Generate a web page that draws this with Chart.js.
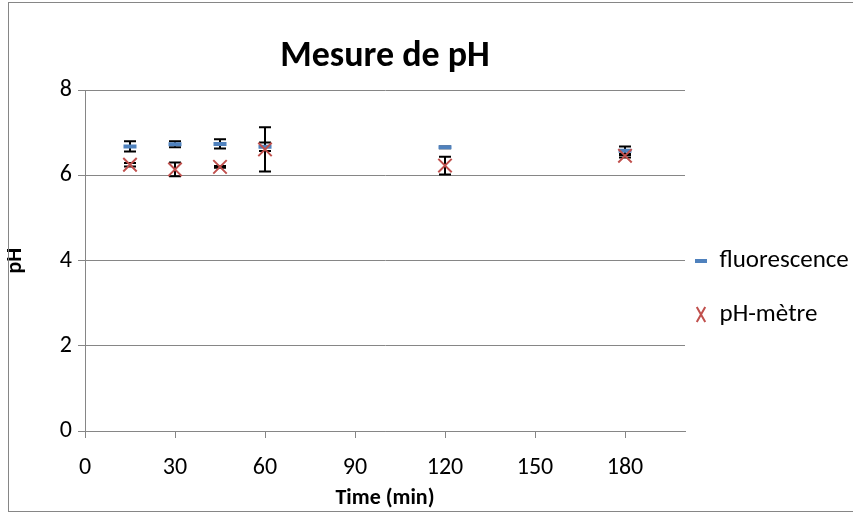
<!DOCTYPE html>
<html>
<head>
<meta charset="utf-8">
<script src="https://cdn.jsdelivr.net/npm/chart.js@4.4.0/dist/chart.umd.min.js"></script>
<style>
  html, body { margin: 0; padding: 0; background: #fff; overflow: hidden; }
  #box { position: absolute; left: 0; top: 0; width: 853px; height: 514px; }
  #frame { position: absolute; left: 8px; top: 2px; width: 860px; height: 510px; border: 1px solid #868686; box-sizing: border-box; pointer-events: none; }
</style>
</head>
<body>
<div id="box"><canvas id="phChart"></canvas></div>
<div id="frame"></div>
<script>
// temps de prélèvement (min)
const times = [15, 30, 45, 60, 120, 180];
// pH mesuré par fluorescence + écart
const fluo = [6.68, 6.73, 6.74, 6.67, 6.66, 6.58];
const fluoErr = [0.12, 0.07, 0.11, 0.10, 0.02, 0.10];
// pH mesuré au pH-mètre + écart
const phm = [6.25, 6.14, 6.20, 6.61, 6.23, 6.46];
const phmErr = [0.04, 0.16, 0.02, 0.52, 0.21, 0.04];

const FONT = 'Carlito, Calibri, Lato, sans-serif';
const GRID = '#868686';

// barres d'erreur verticales, dessinées sous les marqueurs
const errorBars = {
  id: 'errorBars',
  beforeDatasetsDraw(chart) {
    const ctx = chart.ctx;
    const xs = chart.scales.x;
    const ys = chart.scales.y;
    ctx.save();
    ctx.strokeStyle = '#000';
    ctx.lineWidth = 2;
    [[fluo, fluoErr], [phm, phmErr]].forEach(([vals, errs]) => {
      vals.forEach((v, i) => {
        const x = xs.getPixelForValue(times[i]);
        const top = ys.getPixelForValue(v + errs[i]);
        const bot = ys.getPixelForValue(v - errs[i]);
        ctx.beginPath();
        ctx.moveTo(x, top); ctx.lineTo(x, bot);
        ctx.moveTo(x - 6, top); ctx.lineTo(x + 6, top);
        ctx.moveTo(x - 6, bot); ctx.lineTo(x + 6, bot);
        ctx.stroke();
      });
    });
    ctx.restore();
  }
};

const ctx = document.getElementById('phChart').getContext('2d');
new Chart(ctx, {
  type: 'scatter',
  data: {
    datasets: [{
      label: 'fluorescence',
      data: times.map((t, i) => ({ x: t, y: fluo[i] })),
      pointStyle: 'line',
      pointRadius: 6.5,
      pointHoverRadius: 6.5,
      borderColor: '#4F81BD',
      backgroundColor: '#4F81BD',
      borderWidth: 4,
      order: 1
    }, {
      label: 'pH-mètre',
      data: times.map((t, i) => ({ x: t, y: phm[i] })),
      pointStyle: 'crossRot',
      pointRadius: 9.5,
      pointHoverRadius: 9.5,
      borderColor: '#C0504D',
      backgroundColor: '#C0504D',
      borderWidth: 2,
      order: 0
    }]
  },
  options: {
    responsive: true,
    maintainAspectRatio: false,
    animation: false,
    layout: { padding: { left: 0, right: 0, top: 0, bottom: 0 } },
    plugins: {
      title: {
        display: true,
        text: 'Mesure de pH',
        fullSize: false,
        color: '#000',
        font: { family: FONT, size: 36, weight: 'bold' },
        padding: { top: 35, bottom: 12 }
      },
      legend: {
        position: 'right',
        align: 'center',
        maxWidth: 168,
        title: {
          display: true,
          text: ' ',
          font: { size: 10, lineHeight: 1 },
          padding: { top: 0, bottom: 70 }
        },
        labels: {
          usePointStyle: true,
          pointStyleWidth: 12,
          boxHeight: 15,
          padding: 10,
          color: '#000',
          font: { family: FONT, size: 25, lineHeight: 1.74 },
          sort: (a, b) => a.datasetIndex - b.datasetIndex,
          generateLabels(chart) {
            return Chart.defaults.plugins.legend.labels.generateLabels(chart)
              .map(item => ({ ...item, text: [item.text] }));
          }
        }
      },
      tooltip: { enabled: false }
    },
    scales: {
      x: {
        type: 'linear',
        min: 0,
        max: 200,
        afterFit(scale) { scale.height = 83; },
        ticks: {
          stepSize: 30,
          includeBounds: false,
          color: '#000',
          padding: 16,
          font: { family: FONT, size: 24 }
        },
        grid: { drawOnChartArea: false, color: GRID, tickLength: 7 },
        border: { color: GRID },
        title: {
          display: true,
          text: 'Time (min)',
          color: '#000',
          font: { family: FONT, size: 22, weight: 'bold' },
          padding: { top: 0, bottom: 2 }
        }
      },
      y: {
        min: 0,
        max: 8,
        afterFit(scale) { scale.width = 85; },
        ticks: {
          stepSize: 2,
          color: '#000',
          padding: 6,
          font: { family: FONT, size: 24 }
        },
        grid: { color: GRID, tickLength: 7 },
        border: { color: GRID },
        title: {
          display: true,
          text: 'pH',
          color: '#000',
          font: { family: FONT, size: 22, weight: 'bold' },
          padding: { top: 2, bottom: 0 }
        }
      }
    }
  },
  plugins: [errorBars]
});
</script>
</body>
</html>
